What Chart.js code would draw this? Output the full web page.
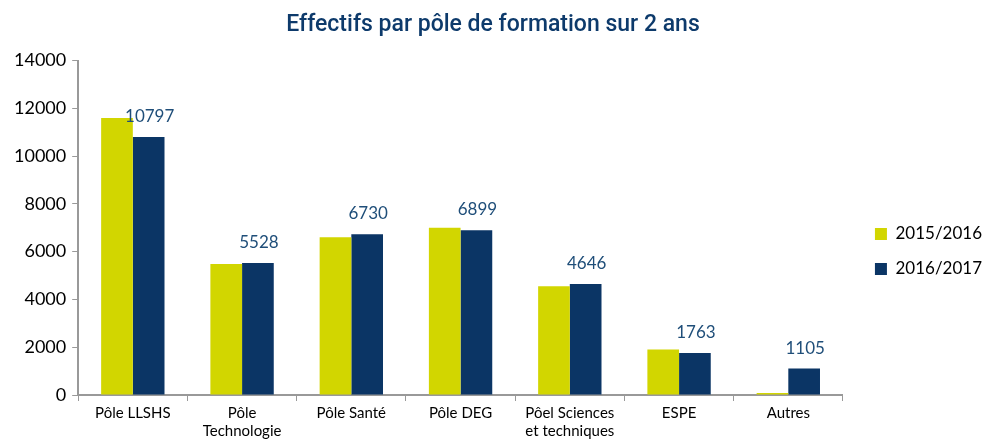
<!DOCTYPE html>
<html lang="fr">
<head>
    <meta charset="UTF-8">
    <title>Effectifs par pôle de formation sur 2 ans</title>
    <style>
        body {
            margin: 0;
            padding: 0;
            background: #fff;
        }
        .chart-container {
            width: 984px;
            height: 443px;
        }
    </style>
</head>
<body>
    <div class="chart-container">
        <canvas id="effectifsChart"></canvas>
    </div>

    <script src="https://cdn.jsdelivr.net/npm/chart.js"></script>
    <script>
        // Données
        const categories = [
            'Pôle LLSHS',
            ['Pôle', 'Technologie'],
            'Pôle Santé',
            'Pôle DEG',
            ['Pôel Sciences', 'et techniques'],
            'ESPE',
            'Autres'
        ];
        const effectifs2015 = [11600, 5480, 6600, 7000, 4550, 1900, 80];
        const effectifs2016 = [10797, 5528, 6730, 6899, 4646, 1763, 1105];
        const yTicks = [0, 2000, 4000, 6000, 8000, 10000, 12000, 14000];

        const navy = '#0b3565';
        const yellow = '#d2d600';

        // étiquettes de valeur au-dessus des barres 2016/2017
        const valueLabels = {
            id: 'valueLabels',
            afterLayout(chart) {
                // décaler la légende vers la droite et vers le bas
                const lg = chart.legend;
                lg.top += 30;
                lg.bottom += 30;
                lg.left += 14;
                lg.right += 14;
            },
            afterDatasetsDraw(chart) {
                const ctx = chart.ctx;
                const meta = chart.getDatasetMeta(1);
                ctx.save();
                ctx.font = '17px Lato, "Open Sans", sans-serif';
                ctx.fillStyle = '#1f4e79';
                ctx.textAlign = 'center';
                ctx.textBaseline = 'bottom';
                meta.data.forEach((bar, i) => {
                    ctx.fillText(effectifs2016[i], bar.x + 1, bar.y - 12);
                });
                ctx.restore();
            }
        };

        new Chart(document.getElementById('effectifsChart').getContext('2d'), {
            type: 'bar',
            data: {
                labels: categories,
                datasets: [{
                    label: '2015/2016',
                    data: effectifs2015,
                    backgroundColor: yellow,
                    barPercentage: 1,
                    categoryPercentage: 0.58
                }, {
                    label: '2016/2017',
                    data: effectifs2016,
                    backgroundColor: navy,
                    barPercentage: 1,
                    categoryPercentage: 0.58
                }]
            },
            options: {
                responsive: true,
                maintainAspectRatio: false,
                animation: false,
                layout: {
                    padding: { left: 8, right: 6, top: 0, bottom: 0 }
                },
                plugins: {
                    title: {
                        display: true,
                        text: 'Effectifs par pôle de formation sur 2 ans',
                        color: '#0d3a6b',
                        font: { family: 'Roboto', size: 23, weight: '500' },
                        padding: { top: 11, bottom: 22 }
                    },
                    legend: {
                        position: 'right',
                        labels: {
                            boxWidth: 12,
                            boxHeight: 12,
                            padding: 18,
                            color: '#000',
                            font: { family: 'Lato', size: 17 }
                        }
                    },
                    tooltip: { enabled: false }
                },
                scales: {
                    x: {
                        grid: {
                            display: true,
                            drawOnChartArea: false,
                            tickLength: 6,
                            color: '#999'
                        },
                        border: { color: '#999', width: 2 },
                        ticks: {
                            color: '#000',
                            maxRotation: 0,
                            autoSkip: false,
                            font: { family: 'Lato', size: 15 }
                        }
                    },
                    y: {
                        min: 0,
                        max: 14000,
                        afterBuildTicks(axis) {
                            axis.ticks = yTicks.map(v => ({ value: v }));
                        },
                        grid: {
                            display: true,
                            drawOnChartArea: false,
                            tickLength: 6,
                            color: '#999'
                        },
                        border: { color: '#999', width: 2 },
                        ticks: {
                            color: '#000',
                            padding: 6,
                            callback: v => String(v),
                            font: { family: 'Lato', size: 18 }
                        }
                    }
                }
            },
            plugins: [valueLabels]
        });
    </script>
</body>
</html>
